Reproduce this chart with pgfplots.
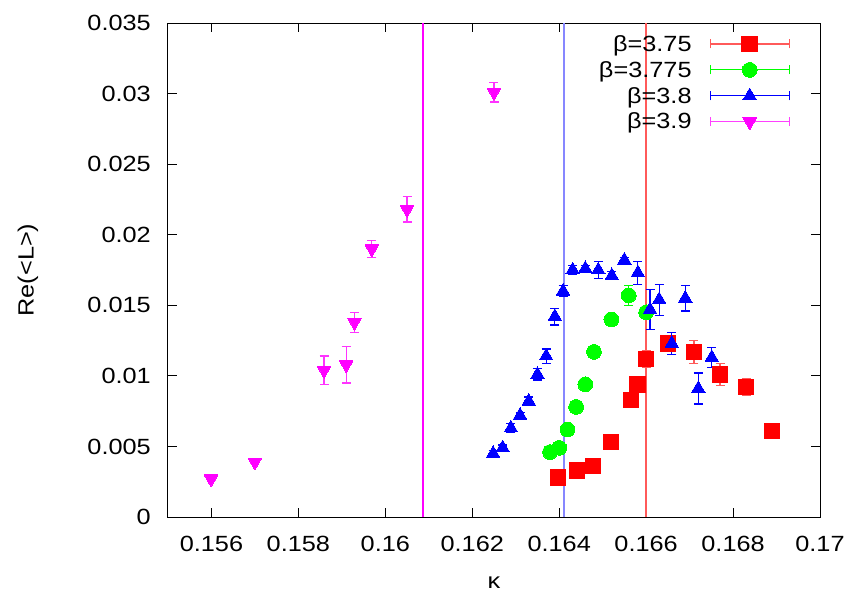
\documentclass[border=0pt]{standalone}
\usepackage{fontspec}
\setmainfont{Liberation Sans}[FakeStretch=1.15]
\usepackage{pgfplots}
\pgfplotsset{compat=1.18}
\definecolor{cR}{RGB}{255,0,0}
\definecolor{cG}{RGB}{0,255,0}
\definecolor{cB}{RGB}{0,0,255}
\definecolor{cM}{RGB}{255,0,255}
\definecolor{lB}{RGB}{135,135,255}
\definecolor{lR}{RGB}{255,90,90}
\pgfplotsset{
  ebar/.style={
    error bars/.cd, y dir=both, y explicit,
    error bar style={line width=1.2pt, color=#1},
    error mark options={rotate=90, mark size=4.5pt, line width=1.2pt, color=#1},
    /pgfplots/.cd,
  },
  legimg/.style={
    legend image code/.code={
      \draw[#1, line width=1.2pt] (0pt,0pt) -- (79pt,0pt) (0pt,-4.5pt) -- (0pt,4.5pt) (79pt,-4.5pt) -- (79pt,4.5pt);
      \draw[##1] plot coordinates {(39.5pt,0pt)};
    }
  },
}
\begin{document}
\begin{tikzpicture}[font=\fontsize{22}{26}\selectfont]
\begin{axis}[
  scale only axis, width=652pt, height=494pt,
  xmin=0.155, xmax=0.17, ymin=0, ymax=0.035,
  xtick={0.156,0.158,0.160,0.162,0.164,0.166,0.168,0.170},
  ytick={0,0.005,0.010,0.015,0.020,0.025,0.030,0.035},
  scaled ticks=false,
  /pgf/number format/assume math mode=true,
  xticklabel style={/pgf/number format/fixed, /pgf/number format/precision=3, inner sep=0pt, yshift=-19pt},
  yticklabel style={/pgf/number format/fixed, /pgf/number format/precision=3, inner sep=0pt, xshift=-17pt},
  tick align=inside, major tick length=9pt,
  tick style={black, line width=1pt},
  axis line style={black, line width=1pt},
  xlabel={κ}, ylabel={Re(<L>)},
  xlabel style={at={(axis description cs:0.5,-0.1336)}, anchor=center},
  ylabel style={at={(axis description cs:-0.2147,0.5)}, anchor=center},
  legend plot pos=right,
  legend cell align=right,
  legend style={draw=none, fill=none, at={(axis description cs:1,1)}, anchor=north east,
    xshift=-27pt, yshift=-10pt, row sep=8.5pt,
    nodes={inner sep=0pt},
    /tikz/every odd column/.append style={column sep=18pt}},
]
% vertical lines
\addplot[forget plot, mark=none, color=cM, solid, line width=1.4pt] table {
x y
0.16087 0
0.16087 0.035
};
\addplot[forget plot, mark=none, color=lB, solid, line width=1.8pt] table {
x y
0.16411 0
0.16411 0.035
};
\addplot[forget plot, mark=none, color=lR, solid, line width=1.3pt] table {
x y
0.16600 0
0.16600 0.035
};

\addplot[only marks, mark=square*, mark size=7.8pt, mark options={fill=cR, draw=cR, line width=0pt}, cR,
  legimg=lR, ebar=lR] table[y error index=2] {
x y e
0.16397 0.0028 0.0002
0.16441 0.0033 0.0002
0.16478 0.0036 0.0002
0.16519 0.0053 0.0002
0.16565 0.0083 0.0003
0.16580 0.0094 0.0003
0.16600 0.0112 0.0006
0.16650 0.0123 0.0003
0.16710 0.0117 0.0008
0.16770 0.0101 0.0008
0.16830 0.0092 0.0006
0.16890 0.0061 0.0002
};
\addlegendentry{β=3.75}

\addplot[only marks, mark=*, mark size=7.4pt, mark options={fill=cG, draw=cG, line width=0pt}, cG,
  legimg=cG, ebar=cG] table[y error index=2] {
x y e
0.16379 0.0046 0.0002
0.16400 0.0049 0.0002
0.16419 0.0062 0.0002
0.16439 0.0078 0.0002
0.16460 0.0094 0.0002
0.16480 0.0117 0.0002
0.16520 0.0140 0.0002
0.16560 0.0157 0.0007
0.16600 0.0145 0.0003
};
\addlegendentry{β=3.775}

\addplot[only marks, mark=triangle*, mark size=7.8pt, mark options={fill=cB, draw=cB, line width=0pt}, cB,
  legimg=cB, ebar=cB] table[y error index=2] {
x y e
0.16248 0.0045 0.0002
0.16270 0.0049 0.0002
0.16289 0.0063 0.0003
0.16310 0.0072 0.0002
0.16330 0.0082 0.0003
0.16350 0.0101 0.0004
0.16370 0.0114 0.0005
0.16390 0.0142 0.0006
0.16409 0.0160 0.0004
0.16431 0.0175 0.0003
0.16460 0.0176 0.0002
0.16490 0.0175 0.0006
0.16521 0.0171 0.0003
0.16550 0.0182 0.0002
0.16581 0.0173 0.0008
0.16609 0.0147 0.0014
0.16630 0.0154 0.0011
0.16659 0.0123 0.0008
0.16690 0.0155 0.0009
0.16720 0.0091 0.0011
0.16751 0.0113 0.0007
};
\addlegendentry{β=3.8}

\addplot[only marks, mark=triangle*, mark size=7.8pt, mark options={rotate=180, fill=cM, draw=cM, line width=0pt}, cM,
  legimg=cM!75, ebar=cM!80] table[y error index=2] {
x y e
0.15599 0.0027 0.0001
0.15700 0.0039 0.0001
0.15859 0.0104 0.0010
0.15910 0.0108 0.0013
0.15929 0.0138 0.0007
0.15969 0.0190 0.0006
0.16050 0.0218 0.0009
0.16250 0.0301 0.0007
};
\addlegendentry{β=3.9}
\end{axis}
\pgfresetboundingbox
\useasboundingbox (-168pt,-78pt) rectangle (687pt,517pt);
\end{tikzpicture}
\end{document}
